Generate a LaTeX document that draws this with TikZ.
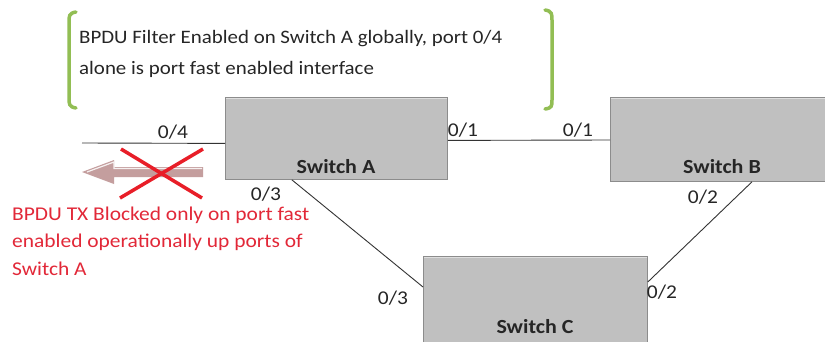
\documentclass[tikz,border=0pt]{standalone}
\usepackage{fontspec}
\setmainfont{Carlito}
\newfontfamily\wfont[FakeStretch=1.1]{Carlito}
\usetikzlibrary{calc}
\definecolor{boxgray}{RGB}{192,192,192}
\definecolor{boxedge}{RGB}{140,140,140}
\definecolor{boxtop}{RGB}{222,222,222}
\definecolor{brgreen}{RGB}{146,190,84}
\definecolor{txtred}{RGB}{226,40,56}
\definecolor{arrowrose}{RGB}{196,158,158}
\definecolor{xred}{RGB}{232,30,40}
\tikzset{
  switchbox/.style={draw=boxedge, line width=0.8pt, fill=boxgray, inner sep=0pt, anchor=north west},
  swlabel/.style={font=\wfont\fontsize{20}{24}\selectfont\bfseries, text=black!85, inner sep=0pt},
  port/.style={font=\wfont\fontsize{19.5}{24}\selectfont, text=black!85, inner sep=0pt},
  link/.style={line width=0.9pt, draw=black!80},
  bracket/.style={draw=brgreen, line width=3.5pt, line cap=round},
  note/.style={font=\wfont\fontsize{19}{31}\selectfont, text=black!85, align=left, inner sep=0pt, anchor=base west},
  rednote/.style={font=\wfont\fontsize{19.5}{27.5}\selectfont, text=txtred, align=left, inner sep=0pt, anchor=base west},
}
\begin{document}
\begin{tikzpicture}[x=1pt,y=-1pt]
\useasboundingbox[fill=white] (0,0) rectangle (825,341);
% brackets
\draw[bracket] (76,12) .. controls (69,13) and (69,16) .. (69,22) -- (69,98) .. controls (69,104) and (69,107) .. (76,108);
\draw[bracket] (545,10) .. controls (552,11) and (552,14) .. (552,20) -- (552,100) .. controls (552,106) and (552,108) .. (545,109);
\node[note] (note) at (79,74) {BPDU Filter Enabled on Switch A globally, port 0/4\\alone is port fast enabled interface};
% switches
\node[switchbox, minimum width=222pt, minimum height=82pt] (A) at (225,97) {};
\node[switchbox, minimum width=225pt, minimum height=84pt] (B) at (610,97) {};
\node[switchbox, minimum width=224pt, minimum height=95pt] (C) at (423,256) {};
\foreach \n in {A,B,C}{
  \draw[boxtop, line width=1.5pt] ([xshift=1pt,yshift=-1.5pt]\n.north west) -- ([xshift=-1pt,yshift=-1.5pt]\n.north east);
}
\node[swlabel] (Alab) at (336,167) {Switch A};
\node[swlabel] (Blab) at (722,167) {Switch B};
\node[swlabel] (Clab) at (535,327) {Switch C};
% connectors
\coordinate (free) at (82,143);
\draw[link] (free) -- ([yshift=-5pt]A.west);
\draw[link] ([yshift=-2pt]A.east) -- ([yshift=-43pt]B.north west);
\draw[link] ($(A.south west)!0.3!(A.south east)$) -- ([yshift=-31pt]C.north west);
\draw[link] ([xshift=142pt]B.south west) -- ([yshift=-26pt]C.north east);
% port labels
\node[port] (p04) at (173,132) {0/4};
\node[port] (p01a) at (463,130) {0/1};
\node[port] (p01b) at (578,130) {0/1};
\node[port] (p03a) at (266,194) {0/3};
\node[port] (p03b) at (393,298) {0/3};
\node[port] (p02a) at (703,197) {0/2};
\node[port] (p02b) at (662,292) {0/2};
% blocked arrow
\fill[arrowrose] (203,167) -- (114,167) -- (114,160) -- (82,172) -- (114,184) -- (114,177) -- (203,177) -- cycle;
\draw[white!85!arrowrose, line width=1.2pt] (202,168.5) -- (114,168.5) -- (114,162) -- (87,172);
\draw[xred, line width=3.5pt] (121,149) -- (202,198);
\draw[xred, line width=3.5pt] (203,149) -- (120,198);
\node[rednote] (red) at (12,275) {BPDU TX Blocked only on port fast\\enabled operationally up ports of\\Switch A};
\end{tikzpicture}
\end{document}
